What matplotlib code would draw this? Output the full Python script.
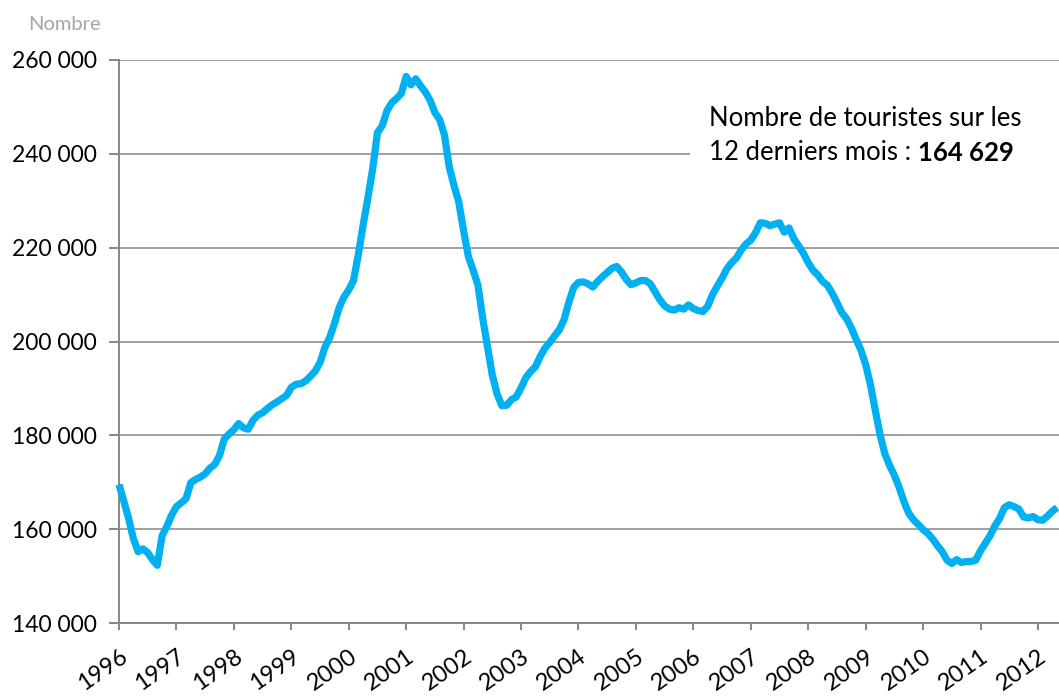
import matplotlib.pyplot as plt
from matplotlib.patches import Rectangle
from matplotlib.ticker import FuncFormatter

plt.rcParams['font.family'] = ['Lato', 'DejaVu Sans']

# nombre de touristes sur 12 mois glissants, en milliers, de janvier 1996 a mai 2012
touristes_milliers = [
    169.5, 166.0, 162.3, 158.0, 155.2, 155.8, 155.0, 153.5, 152.3, 158.6, 160.6, 163.0,
    164.8, 165.6, 166.5, 169.9, 170.6, 171.1, 171.8, 173.0, 173.8, 175.7, 179.2, 180.3,
    181.2, 182.5, 181.6, 181.3, 183.2, 184.3, 184.8, 185.7, 186.5, 187.1, 187.8, 188.5,
    190.2, 190.9, 191.0, 191.6, 192.6, 193.7, 195.5, 198.7, 200.8, 203.8, 207.2, 209.5,
    211.0, 213.0, 218.5, 224.8, 230.6, 236.8, 244.5, 246.0, 249.2, 250.9, 251.8, 252.9,
    256.5, 254.7, 256.0, 254.5, 253.2, 251.4, 248.8, 247.3, 244.0, 237.2, 233.2, 229.7,
    223.6, 218.1, 215.2, 212.0, 204.9, 198.8, 192.8, 188.8, 186.3, 186.4, 187.6, 188.2,
    190.1, 192.3, 193.6, 194.6, 196.8, 198.6, 199.8, 201.2, 202.5, 204.7, 208.4, 211.5,
    212.6, 212.7, 212.3, 211.6, 212.8, 213.8, 214.7, 215.6, 216.0, 214.8, 213.2, 212.1,
    212.5, 213.0, 213.0, 212.3, 210.6, 208.9, 207.6, 206.9, 206.7, 207.2, 206.9, 207.8,
    207.0, 206.6, 206.4, 207.5, 210.0, 211.8, 213.5, 215.5, 216.8, 217.8, 219.5, 220.8,
    221.6, 223.2, 225.3, 225.2, 224.7, 225.0, 225.3, 223.3, 224.2, 221.9, 220.4, 218.8,
    216.8, 215.2, 214.2, 212.8, 212.0, 210.3, 208.3, 206.2, 204.9, 202.9, 200.5, 198.2,
    195.1, 190.8, 185.4, 180.2, 176.1, 173.6, 171.5, 168.9, 165.9, 163.4, 162.0, 161.0,
    159.9, 159.1, 157.9, 156.5, 155.2, 153.4, 152.7, 153.5, 152.9, 153.1, 153.1, 153.4,
    155.4, 157.0, 158.6, 160.7, 162.3, 164.6, 165.2, 164.8, 164.3, 162.6, 162.4, 162.7,
    162.0, 161.9, 162.8, 163.8, 164.629,
]
annees = [str(a) for a in range(1996, 2013)]
valeur_finale = '164 629'

touristes = [v * 1000 for v in touristes_milliers]
mois = list(range(len(touristes)))

fig = plt.figure(figsize=(10.59, 6.97), dpi=100)
ax = fig.add_axes([119 / 1059, 1 - 623 / 697, 1 - 119 / 1059, (623 - 60) / 697])

gris = '#868686'
ax.plot(mois, touristes, color='#00B0F0', linewidth=5.2, solid_joinstyle='round',
        solid_capstyle='butt', zorder=3, clip_on=False)

ax.set_ylim(140000, 260000)
ax.set_yticks(range(140000, 260001, 20000))
ax.yaxis.set_major_formatter(FuncFormatter(lambda v, p: '{:,}'.format(int(v)).replace(',', ' ')))
ax.set_xlim(0, 196.4)
ax.set_xticks([12 * k for k in range(len(annees))])
ax.set_xticklabels(annees, rotation=35, ha='right', rotation_mode='anchor')

ax.grid(axis='y', color='#a0a0a0', linewidth=1.4)
ax.set_axisbelow(True)
for s in ['top', 'right']:
    ax.spines[s].set_visible(False)
for s in ['left', 'bottom']:
    ax.spines[s].set_color(gris)
    ax.spines[s].set_linewidth(1.4)
ax.tick_params(axis='both', colors=gris, width=1.4, labelcolor='black')
ax.tick_params(axis='y', length=7, pad=9, labelsize=16.5)
ax.tick_params(axis='x', length=5, pad=11, labelsize=17)

fig.text(28 / 1059, 1 - 24 / 697, 'Nombre', color='#a6a6a6', fontsize=14.5, va='center')

# cadre blanc derriere le commentaire
fig.add_artist(Rectangle((690 / 1059, 1 - 172 / 697), 1 - 690 / 1059, 75 / 697,
                         transform=fig.transFigure, facecolor='white', edgecolor='none', zorder=2))
fig.text(709 / 1059, 1 - 118 / 697, 'Nombre de touristes sur les', fontsize=18.5,
         va='center', zorder=4)
t = fig.text(709 / 1059, 1 - 153 / 697, '12 derniers mois : ', fontsize=18.5,
             va='center', zorder=4)
fig.canvas.draw()
bb = t.get_window_extent().transformed(fig.transFigure.inverted())
fig.text(bb.x1, 1 - 153 / 697, valeur_finale, fontsize=18.5, fontweight='bold',
         va='center', zorder=4)

plt.savefig('out.png', dpi=100)
